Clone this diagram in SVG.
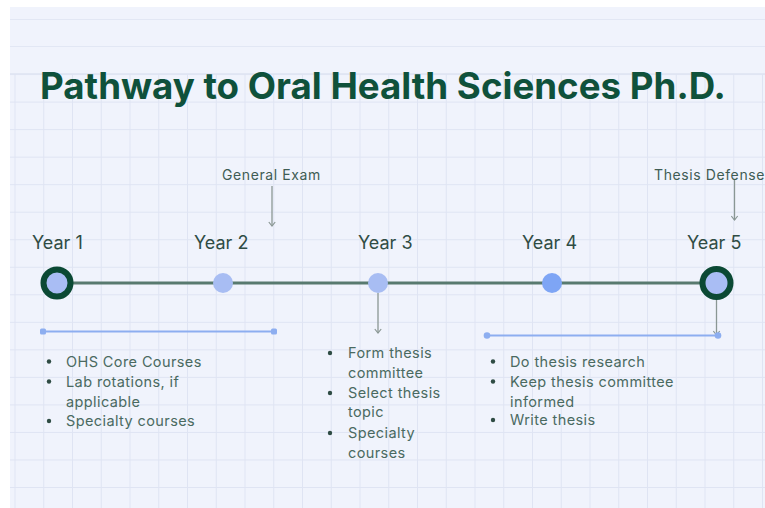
<svg xmlns="http://www.w3.org/2000/svg" width="765" height="508" viewBox="0 0 765 508">
  <defs>
    <pattern id="grid" x="14.5" y="19" width="28.75" height="27.53" patternUnits="userSpaceOnUse">
      <path d="M0 0.5 H28.75 M0.5 0 V27.53" fill="none" stroke="#dfe4f3" stroke-width="1"/>
    </pattern>
    <marker id="arr" viewBox="0 0 10 10" refX="9" refY="5" markerWidth="8" markerHeight="8" markerUnits="userSpaceOnUse" orient="auto">
      <path d="M4 1 L9 5 L4 9" fill="none" stroke="#8a9794" stroke-width="1.5"/>
    </marker>
  </defs>
  <style>
    .title { font-family: Inter, "Liberation Sans", sans-serif; font-weight: 700; font-size: 36.7px; fill: #0f513b; }
    .year { font-family: Inter, "Liberation Sans", sans-serif; font-size: 18px; fill: #2f4c44; }
    .note { font-family: Inter, "Liberation Sans", sans-serif; font-size: 14px; letter-spacing: 0.6px; fill: #3f5c54; }
    .item { font-family: Inter, "Liberation Sans", sans-serif; font-size: 14.5px; letter-spacing: 0.4px; fill: #4a6a61; }
    .dot { fill: #2f4c44; }
    .ring { fill: #a9bdf4; stroke: #0b4934; stroke-width: 6; }
    .node { fill: #a8bdf3; }
    .node4 { fill: #7ea5f5; }
    .bar { stroke: #8daef0; stroke-width: 2; fill: none; }
    .barend { fill: #8daef0; }
    .arrow { stroke: #8a9794; stroke-width: 1.3; fill: none; }
    .timeline { stroke: #587a6f; stroke-width: 3; fill: none; }
  </style>

  <rect x="0" y="0" width="765" height="508" fill="#ffffff"/>
  <rect x="10" y="7" width="755" height="501" fill="#f0f3fc"/>
  <rect x="10" y="73" width="755" height="435" fill="url(#grid)"/>
  <g stroke="#e2e7f4" stroke-width="1">
    <line x1="10" y1="19.5" x2="765" y2="19.5"/>
    <line x1="10" y1="46.5" x2="765" y2="46.5"/>
    <line x1="10" y1="73.5" x2="765" y2="73.5"/>
  </g>

  <text class="title" x="40" y="99">Pathway to Oral Health Sciences Ph.D.</text>

  <g id="connectors">
    <line class="timeline" x1="58" y1="283" x2="716" y2="283"/>
    <line class="arrow" x1="272" y1="186" x2="272" y2="226" marker-end="url(#arr)"/>
    <line class="arrow" x1="734.5" y1="180" x2="734.5" y2="220" marker-end="url(#arr)"/>
    <line class="arrow" x1="378" y1="293" x2="378" y2="333" marker-end="url(#arr)"/>
    <line class="arrow" x1="716.5" y1="300" x2="716.5" y2="335" marker-end="url(#arr)"/>
    <g id="bar-year1">
      <line class="bar" x1="43" y1="331.5" x2="274" y2="331.5"/>
      <rect class="barend" x="40" y="328.5" width="6" height="6" rx="1.5"/>
      <rect class="barend" x="271" y="328.5" width="6" height="6" rx="1.5"/>
    </g>
    <g id="bar-year4">
      <line class="bar" x1="487" y1="335.5" x2="718" y2="335.5"/>
      <circle class="barend" cx="487" cy="335.5" r="3.3"/>
      <circle class="barend" cx="718" cy="335.5" r="3.3"/>
    </g>
  </g>

  <g id="year1">
    <text class="year" x="32" y="249">Year 1</text>
    <circle class="ring" cx="57" cy="283" r="13.5"/>
  </g>
  <g id="year2">
    <text class="year" x="194" y="249">Year 2</text>
    <circle class="node" cx="223" cy="283" r="10"/>
  </g>
  <g id="year3">
    <text class="year" x="358" y="249">Year 3</text>
    <circle class="node" cx="378" cy="283" r="10"/>
  </g>
  <g id="year4">
    <text class="year" x="522" y="249">Year 4</text>
    <circle class="node4" cx="552" cy="283" r="10"/>
  </g>
  <g id="year5">
    <text class="year" x="687" y="249">Year 5</text>
    <circle class="ring" cx="716.5" cy="283" r="14"/>
  </g>

  <g id="general-exam">
    <text class="note" x="222" y="180">General Exam</text>
  </g>
  <g id="thesis-defense">
    <text class="note" x="654" y="180">Thesis Defense</text>
  </g>

  <g id="list-year1">
    <circle class="dot" cx="49" cy="361.5" r="2.2"/>
    <text class="item" x="66" y="366.5">OHS Core Courses</text>
    <circle class="dot" cx="49" cy="381.5" r="2.2"/>
    <text class="item" x="66" y="386.5">Lab rotations, if</text>
    <text class="item" x="66" y="406.5">applicable</text>
    <circle class="dot" cx="49" cy="421" r="2.2"/>
    <text class="item" x="66" y="426">Specialty courses</text>
  </g>

  <g id="list-year3">
    <circle class="dot" cx="330" cy="353" r="2.2"/>
    <text class="item" x="348" y="358">Form thesis</text>
    <text class="item" x="348" y="378">committee</text>
    <circle class="dot" cx="330" cy="393" r="2.2"/>
    <text class="item" x="348" y="398">Select thesis</text>
    <text class="item" x="348" y="417">topic</text>
    <circle class="dot" cx="330" cy="433" r="2.2"/>
    <text class="item" x="348" y="438">Specialty</text>
    <text class="item" x="348" y="458">courses</text>
  </g>

  <g id="list-year4">
    <circle class="dot" cx="493" cy="361.5" r="2.2"/>
    <text class="item" x="510" y="366.5">Do thesis research</text>
    <circle class="dot" cx="493" cy="381.5" r="2.2"/>
    <text class="item" x="510" y="386.5">Keep thesis committee</text>
    <text class="item" x="510" y="406.5">informed</text>
    <circle class="dot" cx="493" cy="420" r="2.2"/>
    <text class="item" x="510" y="425">Write thesis</text>
  </g>
</svg>
